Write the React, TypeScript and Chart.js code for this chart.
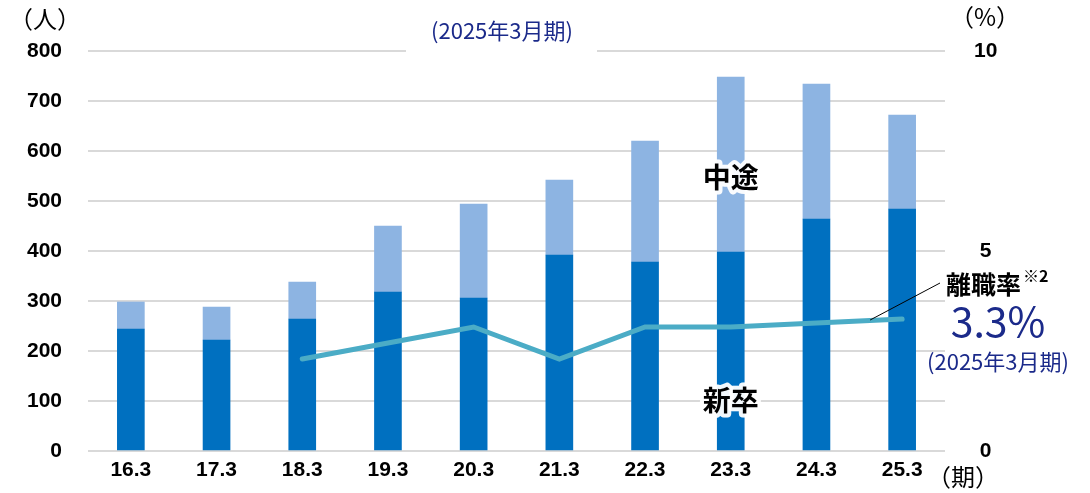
import React, { useEffect, useRef } from "react";
import { Chart, registerables } from "chart.js";

Chart.register(...registerables);

const categories = ["16.3", "17.3", "18.3", "19.3", "20.3", "21.3", "22.3", "23.3", "24.3", "25.3"];
const newGrad = [244, 222, 264, 318, 306, 392, 378, 398, 464, 484];
const midCareer = [54, 66, 74, 132, 188, 150, 242, 350, 270, 188];
const turnoverRate = [null, null, 2.3, 2.7, 3.1, 2.3, 3.1, 3.1, 3.2, 3.3];
const leftTicks = [0, 100, 200, 300, 400, 500, 600, 700, 800];
const rightTicks = [0, 5, 10];

const NAVY = "#1B2A8A";
const CJK = '"Noto Sans CJK JP", "Noto Sans", sans-serif';
const NUM = '"Liberation Sans", Arial, sans-serif';

const overlayPlugin = {
  id: "overlay",
  afterDraw(chart: any) {
    const ctx = chart.ctx as CanvasRenderingContext2D;
    const xs = chart.scales.x;
    const y1 = chart.scales.y1;
    ctx.save();
    // top white box with note
    ctx.fillStyle = "#ffffff";
    ctx.fillRect(406, 0, 191, 56);
    ctx.fillStyle = NAVY;
    ctx.font = `22px ${CJK}`;
    ctx.textAlign = "center";
    ctx.textBaseline = "middle";
    ctx.fillText("(2025年3月期)", 502, 31);

    // unit labels
    ctx.fillStyle = "#000";
    ctx.font = `24px ${CJK}`;
    ctx.fillText("（人）", 45, 19);
    ctx.fillText("（%）", 985, 17);
    ctx.fillText("（期）", 963, 477);

    // series labels with halo
    const cx = xs.getPixelForValue(7);
    const drawHalo = (t: string, px: number, py: number) => {
      ctx.font = `bold 28px ${CJK}`;
      ctx.textAlign = "center";
      ctx.textBaseline = "middle";
      ctx.lineJoin = "round";
      ctx.strokeStyle = "rgba(255,255,255,0.95)";
      ctx.lineWidth = 8;
      ctx.strokeText(t, px, py);
      ctx.fillStyle = "#000";
      ctx.fillText(t, px, py);
    };
    drawHalo("中途", cx, 177);
    drawHalo("新卒", cx, 400);

    // leader line
    const lx = xs.getPixelForValue(9) - 32;
    const ly = y1.getPixelForValue(3.3) + 1;
    ctx.strokeStyle = "#000";
    ctx.lineWidth = 1;
    ctx.beginPath();
    ctx.moveTo(lx, ly);
    ctx.lineTo(940, 283);
    ctx.stroke();

    // callout
    ctx.fillStyle = "#000";
    ctx.textAlign = "left";
    ctx.font = `bold 25px ${CJK}`;
    ctx.fillText("離職率", 946, 284);
    ctx.font = `bold 16px ${CJK}`;
    ctx.fillText("※2", 1023, 276);
    ctx.fillStyle = NAVY;
    ctx.textAlign = "center";
    ctx.font = `41px ${CJK}`;
    ctx.fillText("3.3%", 998, 321);
    ctx.font = `22px ${CJK}`;
    ctx.fillText("(2025年3月期)", 998, 362);
    ctx.restore();
  },
};

export default function App() {
  const ref = useRef<HTMLCanvasElement | null>(null);
  useEffect(() => {
    document.body.style.margin = "0";
    const chart = new Chart(ref.current as HTMLCanvasElement, {
      type: "bar",
      data: {
        labels: categories,
        datasets: [
          {
            type: "line",
            label: "離職率",
            data: turnoverRate as any,
            yAxisID: "y1",
            borderColor: "#4BACC6",
            borderWidth: 5,
            borderCapStyle: "round",
            pointRadius: 0,
            tension: 0,
            order: 0,
          } as any,
          {
            label: "新卒",
            data: newGrad,
            backgroundColor: "#0070C0",
            stack: "s",
            barThickness: 27,
            order: 1,
          },
          {
            label: "中途",
            data: midCareer,
            backgroundColor: "#8DB4E2",
            stack: "s",
            barThickness: 27,
            order: 1,
          },
        ],
      },
      options: {
        responsive: false,
        animation: false,
        devicePixelRatio: 1,
        layout: { padding: { top: 51, left: 0, right: 0, bottom: 0 } },
        plugins: { legend: { display: false }, tooltip: { enabled: false } },
        scales: {
          x: {
            stacked: true,
            grid: { display: false, drawTicks: false },
            border: { display: false },
            ticks: { color: "#000", font: { family: NUM, size: 21, weight: "bold" }, padding: 7 },
            afterFit: (s: any) => { s.height = 42; },
          },
          y: {
            stacked: true,
            min: 0,
            max: 800,
            position: "left",
            afterBuildTicks: (s: any) => { s.ticks = leftTicks.map((v) => ({ value: v })); },
            grid: { color: "#D9D9D9", lineWidth: 2, drawTicks: false },
            border: { display: false },
            ticks: { color: "#000", font: { family: NUM, size: 21, weight: "bold" }, padding: 26 },
            afterFit: (s: any) => { s.width = 88; },
          },
          y1: {
            min: 0,
            max: 10,
            position: "right",
            afterBuildTicks: (s: any) => { s.ticks = rightTicks.map((v) => ({ value: v })); },
            grid: { drawOnChartArea: false, drawTicks: false },
            border: { display: false },
            ticks: { color: "#000", font: { family: NUM, size: 21, weight: "bold" }, padding: 29, crossAlign: "center" },
            afterFit: (s: any) => { s.width = 145; },
          },
        },
      } as any,
      plugins: [overlayPlugin],
    });
    return () => chart.destroy();
  }, []);
  return (
    <div style={{ width: 1090, height: 493 }}>
      <canvas ref={ref} width={1090} height={493} />
    </div>
  );
}
